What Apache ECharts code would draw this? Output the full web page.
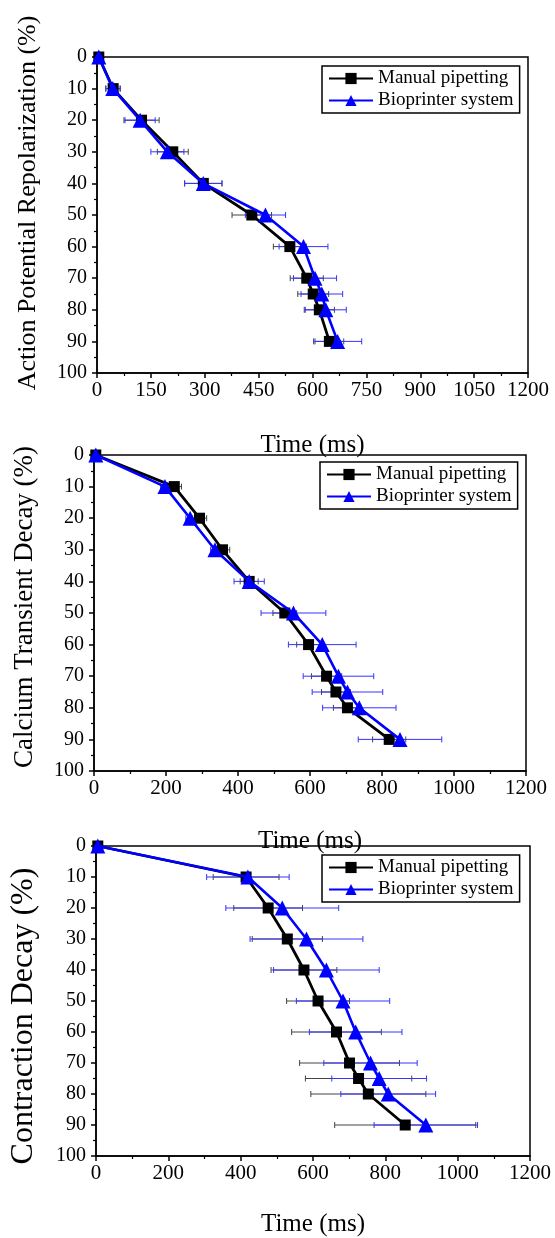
<!DOCTYPE html>
<html>
<head>
<meta charset="utf-8">
<script src="https://cdn.jsdelivr.net/npm/echarts@6/dist/echarts.min.js"></script>
<style>
  html, body { margin: 0; padding: 0; background: #fff; }
  #chart { width: 555px; height: 1238px; }
</style>
</head>
<body>
<div id="chart"></div>
<script>
// percent levels shared by all three panels
const pct = [0, 10, 20, 30, 40, 50, 60, 70, 75, 80, 90];

// Action potential repolarization (ms)
const manualAP = [5, 45, 124, 211, 296, 431, 537, 584, 602, 619, 647];
const bioAP = [5, 44, 120, 196, 296, 469, 575, 607, 626, 637, 670];
const manualAPErr = [0, 20, 49, 43, 52, 55, 46, 46, 43, 42, 40];
const bioAPErr = [0, 20, 42, 46, 52, 56, 68, 60, 58, 57, 67];

// Calcium transient decay (ms)
const manualCa = [5, 223, 293, 357, 431, 530, 596, 646, 672, 704, 820];
const bioCa = [5, 197, 267, 336, 431, 554, 634, 679, 704, 737, 850];
const manualCaErr = [0, 20, 20, 20, 25, 33, 33, 42, 40, 39, 46];
const bioCaErr = [0, 12, 12, 12, 42, 90, 94, 98, 98, 102, 116];

// Contraction decay (ms)
const manualCon = [5, 415, 476, 529, 575, 614, 665, 701, 726, 753, 855];
const bioCon = [5, 420, 515, 582, 637, 683, 718, 759, 783, 808, 912];
const manualConErr = [0, 91, 95, 97, 91, 87, 124, 138, 147, 159, 195];
const bioConErr = [0, 114, 156, 156, 146, 129, 128, 129, 131, 131, 143];

const FONT = "'Liberation Serif', 'Times New Roman', serif";
const BLUE = '#0000ff';

const panels = [
  { yName: 'Action Potential Repolarization (%)', interval: 150,
    manual: manualAP, bio: bioAP, manualErr: manualAPErr, bioErr: bioAPErr,
    grid: { left: 97, top: 57, width: 431, height: 316 }, legend: { left: 322, top: 66 },
    nameGap: 60, yNameSize: 26, yNamePad: [0, 0, 0, 24] },
  { yName: 'Calcium Transient Decay (%)', interval: 200,
    manual: manualCa, bio: bioCa, manualErr: manualCaErr, bioErr: bioCaErr,
    grid: { left: 94, top: 455, width: 432, height: 316 }, legend: { left: 320, top: 462 },
    nameGap: 58, yNameSize: 27, yNamePad: [0, 0, 0, 12] },
  { yName: 'Contraction Decay (%)', interval: 200,
    manual: manualCon, bio: bioCon, manualErr: manualConErr, bioErr: bioConErr,
    grid: { left: 93, top: 846, width: 437, height: 320 }, legend: { left: 322, top: 855 },
    nameGap: 56, yNameSize: 32, yNamePad: [0, 30, 0, 0] }
];

function errBar(color) {
  return function (params, api) {
    const x = api.value(0), y = api.value(1), e = api.value(2);
    if (!e) return null;
    const lo = api.coord([x - e, y]);
    const hi = api.coord([x + e, y]);
    const s = { stroke: color, lineWidth: 1 };
    return {
      type: 'group',
      children: [
        { type: 'line', shape: { x1: lo[0], y1: lo[1], x2: hi[0], y2: hi[1] }, style: s },
        { type: 'line', shape: { x1: lo[0], y1: lo[1] - 3, x2: lo[0], y2: lo[1] + 3 }, style: s },
        { type: 'line', shape: { x1: hi[0], y1: hi[1] - 3, x2: hi[0], y2: hi[1] + 3 }, style: s }
      ]
    };
  };
}

const grids = [], xAxes = [], yAxes = [], legends = [], series = [];

panels.forEach((p, i) => {
  grids.push(Object.assign({ show: true, borderColor: '#000', borderWidth: 1.5 }, p.grid));
  xAxes.push({
    gridIndex: i, type: 'value', min: 0, max: 1200, interval: p.interval,
    name: 'Time (ms)', nameLocation: 'middle', nameGap: p.nameGap,
    nameTextStyle: { fontFamily: FONT, fontSize: 25, color: '#000' },
    axisLine: { onZero: false, lineStyle: { color: '#000', width: 1.5 } },
    axisTick: { length: 5, lineStyle: { color: '#000', width: 1.5 } },
    minorTick: { show: true, splitNumber: 2, length: 3, lineStyle: { color: '#000', width: 1.2 } },
    axisLabel: { fontFamily: FONT, fontSize: 21, color: '#000', margin: 7, formatter: v => String(v) },
    splitLine: { show: false }
  });
  yAxes.push({
    gridIndex: i, type: 'value', min: 0, max: 100, interval: 10, inverse: true,
    name: p.yName, nameLocation: 'middle', nameGap: 56, nameRotate: 90,
    nameTextStyle: { fontFamily: FONT, fontSize: p.yNameSize, color: '#000', padding: p.yNamePad },
    axisLine: { onZero: false, lineStyle: { color: '#000', width: 1.5 } },
    axisTick: { length: 5, lineStyle: { color: '#000', width: 1.5 } },
    minorTick: { show: true, splitNumber: 2, length: 3, lineStyle: { color: '#000', width: 1.2 } },
    axisLabel: { fontFamily: FONT, fontSize: 20, color: '#000', margin: 10, formatter: v => String(v) },
    splitLine: { show: false }
  });
  legends.push({
    left: p.legend.left, top: p.legend.top, orient: 'vertical',
    data: ['Manual pipetting', 'Bioprinter system'],
    itemWidth: 44, itemHeight: 14, itemGap: 3,
    padding: [3, 6, 3, 6], borderColor: '#000', borderWidth: 1.5,
    textStyle: { fontFamily: FONT, fontSize: 19, color: '#000', lineHeight: 19 }
  });
  series.push({
    type: 'custom', xAxisIndex: i, yAxisIndex: i, z: 1,
    renderItem: errBar('#444'),
    data: p.manual.map((v, k) => [v, pct[k], p.manualErr[k]])
  });
  series.push({
    type: 'custom', xAxisIndex: i, yAxisIndex: i, z: 2,
    renderItem: errBar('#3535ff'),
    data: p.bio.map((v, k) => [v, pct[k], p.bioErr[k]])
  });
  series.push({
    name: 'Manual pipetting', type: 'line', xAxisIndex: i, yAxisIndex: i, z: 3,
    symbol: 'rect', symbolSize: 11,
    lineStyle: { color: '#000', width: 2.8 }, itemStyle: { color: '#000' },
    data: p.manual.map((v, k) => [v, pct[k]])
  });
  series.push({
    name: 'Bioprinter system', type: 'line', xAxisIndex: i, yAxisIndex: i, z: 4,
    symbol: 'triangle', symbolSize: 15,
    lineStyle: { color: BLUE, width: 2.6 }, itemStyle: { color: BLUE },
    data: p.bio.map((v, k) => [v, pct[k]])
  });
});

const chart = echarts.init(document.getElementById('chart'));
chart.setOption({
  animation: false,
  grid: grids,
  xAxis: xAxes,
  yAxis: yAxes,
  legend: legends,
  series: series
});
</script>
</body>
</html>
